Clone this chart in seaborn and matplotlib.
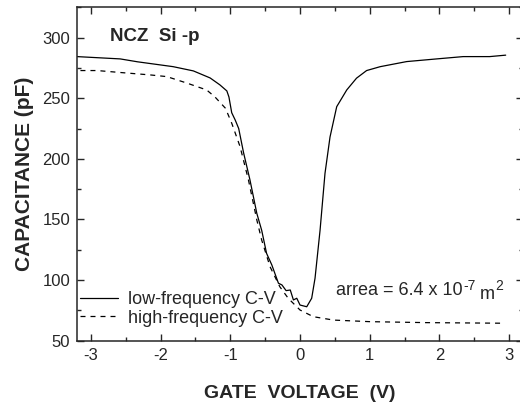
import numpy as np
import pandas as pd
import matplotlib
matplotlib.use("Agg")
import matplotlib.pyplot as plt
import seaborn as sns
from matplotlib.ticker import MultipleLocator

# low-frequency C-V (solid)
v_low = [-3.2, -2.58, -2.33, -1.82, -1.53, -1.29, -1.15, -1.05, -1.02, -0.98, -0.93,
         -0.88, -0.81, -0.72, -0.62, -0.55, -0.48, -0.405, -0.31, -0.26, -0.2, -0.14,
         -0.095, -0.047, 0.0, 0.096, 0.167, 0.215, 0.287, 0.358, 0.43, 0.526,
         0.67, 0.81, 0.955, 1.15, 1.53, 1.96, 2.34, 2.72, 2.95]
c_low = [284.3, 282.4, 280.0, 276.0, 272.5, 266.7, 261.0, 256.0, 251.0, 238.0, 232.0,
         225.0, 205.0, 183.0, 155.0, 141.0, 122.0, 112.5, 97.4, 96.0, 91.3, 91.8,
         83.6, 85.0, 79.4, 78.0, 85.0, 101.5, 141.0, 188.0, 218.0, 243.0,
         256.8, 266.5, 272.8, 276.0, 280.2, 282.4, 284.3, 284.3, 285.5]

# high-frequency C-V (dashed)
v_high = [-3.15, -2.91, -2.58, -2.15, -1.91, -1.62, -1.34, -1.22, -1.07, -0.98, -0.86,
          -0.74, -0.62, -0.55, -0.43, -0.29, -0.17, 0.0, 0.19, 0.48, 1.0, 1.81, 2.94]
c_high = [272.8, 272.8, 271.2, 269.2, 267.8, 262.4, 256.8, 251.0, 241.7, 229.4, 210.0,
          182.6, 149.6, 133.0, 111.0, 94.5, 85.0, 75.3, 69.8, 67.0, 65.7, 64.9, 64.4]

low = pd.DataFrame({"V": v_low, "C": c_low})
high = pd.DataFrame({"V": v_high, "C": c_high})

sns.set_style("ticks")
plt.rcParams["font.family"] = ["Liberation Sans", "DejaVu Sans"]
plt.rcParams["axes.unicode_minus"] = False

fig = plt.figure(figsize=(5.2, 4.03), dpi=100)
ax = fig.add_axes([0.148, 0.1546, 0.858, 0.8274])

sns.lineplot(data=low, x="V", y="C", ax=ax, color="black", lw=0.9,
             sort=False, label="low-frequency C-V")
sns.lineplot(data=high, x="V", y="C", ax=ax, color="black", lw=0.9,
             sort=False, label="high-frequency C-V", dashes=False)
ax.lines[1].set_dashes((4, 4))

ax.set_xlim(-3.2, 3.2)
ax.set_ylim(50, 325)
ax.xaxis.set_major_locator(MultipleLocator(1))
ax.xaxis.set_minor_locator(MultipleLocator(0.5))
ax.yaxis.set_major_locator(MultipleLocator(50))
ax.yaxis.set_minor_locator(MultipleLocator(25))
ax.tick_params(which="both", direction="in", top=True, right=True,
               labelsize=12, width=1.0, pad=5)
ax.tick_params(which="major", length=5)
ax.tick_params(which="minor", length=3)
for s in ax.spines.values():
    s.set_linewidth(1.1)

ax.set_xlabel("GATE  VOLTAGE  (V)", fontsize=14, fontweight="bold", labelpad=16)
ax.set_ylabel("CAPACITANCE (pF)", fontsize=15, fontweight="bold", labelpad=6)

ax.text(-2.72, 301, "NCZ  Si -p", fontsize=13.5, fontweight="bold", va="center")

# "arrea = 6.4 x 10^-7 m^2" with plain hyphen in the exponent
t = ax.text(0.52, 87.5, "arrea = 6.4 x 10", fontsize=13, va="baseline")
fig.canvas.draw()
r = fig.canvas.get_renderer()
bb = t.get_window_extent(r)
t2 = ax.annotate("-7", xy=(bb.x1, bb.y0), xycoords="figure pixels",
                 xytext=(0, 7), textcoords="offset points", fontsize=10)
bb2 = t2.get_window_extent(r)
t3 = ax.annotate(" m", xy=(bb2.x1, bb.y0), xycoords="figure pixels", fontsize=13)
bb3 = t3.get_window_extent(r)
ax.annotate("2", xy=(bb3.x1, bb.y0), xycoords="figure pixels",
            xytext=(0, 7), textcoords="offset points", fontsize=10)

leg = ax.legend(loc="lower left", bbox_to_anchor=(-0.01, 0.02), frameon=False,
                fontsize=13, handlelength=2.1, handletextpad=0.55, labelspacing=0.1,
                borderaxespad=0)

fig.savefig("out.png", dpi=100)
